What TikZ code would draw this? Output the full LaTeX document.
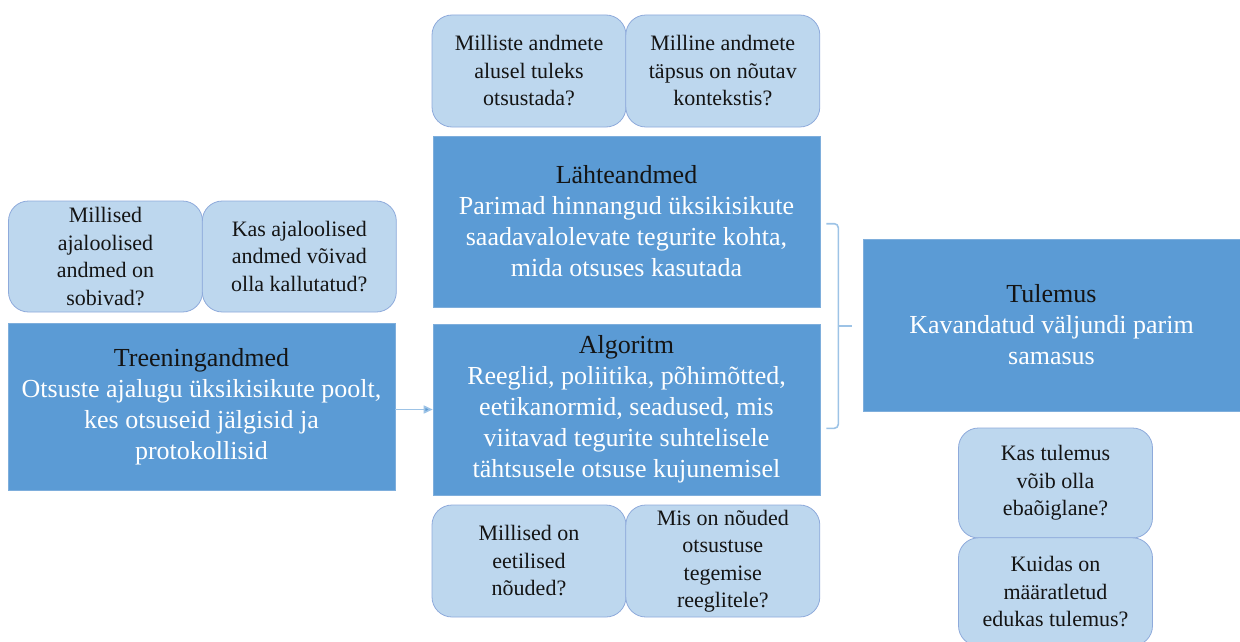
\documentclass[tikz,border=0pt]{standalone}
\usepackage{fontspec}
\setmainfont{Liberation Serif}
\usepackage{xcolor}
\usetikzlibrary{arrows.meta, positioning, calc}
\definecolor{stageBlue}{HTML}{5B9BD5}
\definecolor{stageEdge}{HTML}{7EAEDC}
\definecolor{askBlue}{HTML}{BDD7EE}
\definecolor{askEdge}{HTML}{8EAADB}
\definecolor{linkBlue}{HTML}{9DC3E6}
\definecolor{titleInk}{HTML}{141414}

\begin{document}
\begin{tikzpicture}[
  x=1pt, y=-1pt,
  every node/.style={font=\fontsize{26}{31}\selectfont},
  stage/.style={
    draw=stageEdge, line width=0.6pt, fill=stageBlue, text=white,
    minimum width=387pt, minimum height=171pt, align=center, inner sep=0pt
  },
  ask/.style={
    draw=askEdge, line width=0.8pt, fill=askBlue, text=titleInk,
    rounded corners=20pt, minimum width=194pt, minimum height=111pt,
    align=center, inner sep=0pt, font=\fontsize{22}{27.5}\selectfont
  },
  link/.style={draw=linkBlue, line width=1.6pt},
  arrow/.style={link, -{Triangle[length=9pt, width=8pt, fill=stageBlue]}}
]
\useasboundingbox (0,0) rectangle (1240,642);

% stages
\node[stage, minimum height=167pt] (trein) at (201.5,406.5) {%
  {\color{titleInk}Treeningandmed}\\
  Otsuste ajalugu üksikisikute poolt,\\
  kes otsuseid jälgisid ja\\
  protokollisid};
\node[stage] (lahte) at (626.5,221.5) {%
  {\color{titleInk}Lähteandmed}\\
  Parimad hinnangud üksikisikute\\
  saadavalolevate tegurite kohta,\\
  mida otsuses kasutada};
\node[stage] (algo) at (626.5,409.5) {%
  {\color{titleInk}Algoritm}\\
  Reeglid, poliitika, põhimõtted,\\
  eetikanormid, seadused, mis\\
  viitavad tegurite suhtelisele\\
  tähtsusele otsuse kujunemisel};
\node[stage, minimum width=377pt, minimum height=172pt] (tulem) at (1051.5,325) {%
  {\color{titleInk}Tulemus}\\
  Kavandatud väljundi parim\\
  samasus};

% questions
\node[ask] (askA) at (105.5,256.5) {Millised\\ajaloolised\\andmed on\\sobivad?};
\node[ask, right=-1pt of askA] (askB) {Kas ajaloolised\\andmed võivad\\olla kallutatud?};
\node[ask, minimum height=112pt] (askC) at (529,71) {Milliste andmete\\alusel tuleks\\otsustada?};
\node[ask, minimum height=112pt, right=-1pt of askC] (askD) {Milline andmete\\täpsus on nõutav\\kontekstis?};
\node[ask, minimum height=112pt] (askE) at (529,561) {Millised on\\eetilised\\nõuded?};
\node[ask, minimum height=112pt, right=-1pt of askE] (askF) {Mis on nõuded\\otsustuse\\tegemise\\reeglitele?};
\node[ask, minimum height=110pt] (askG) at (1055.5,483) {Kas tulemus\\võib olla\\ebaõiglane?};
\node[ask, minimum height=108pt, below=-1pt of askG] (askH) {Kuidas on\\määratletud\\edukas tulemus?};

% flow
\draw[arrow] (trein.east |- algo.west) -- (algo.west);

% bracket
\coordinate (brTop) at ($(lahte.north east)+(6,88)$);
\coordinate (brBot) at ($(algo.south east)+(6,-67)$);
\coordinate (brMid) at ($(brTop)!0.5!(brBot)$);
\draw[link, rounded corners=4pt] (brTop) -- ++(12,0) -- (brBot -| {$(brTop)+(12,0)$}) -- (brBot);
\draw[link] ($(brMid)+(12,0)$) -- ++(14,0);
\end{tikzpicture}
\end{document}
